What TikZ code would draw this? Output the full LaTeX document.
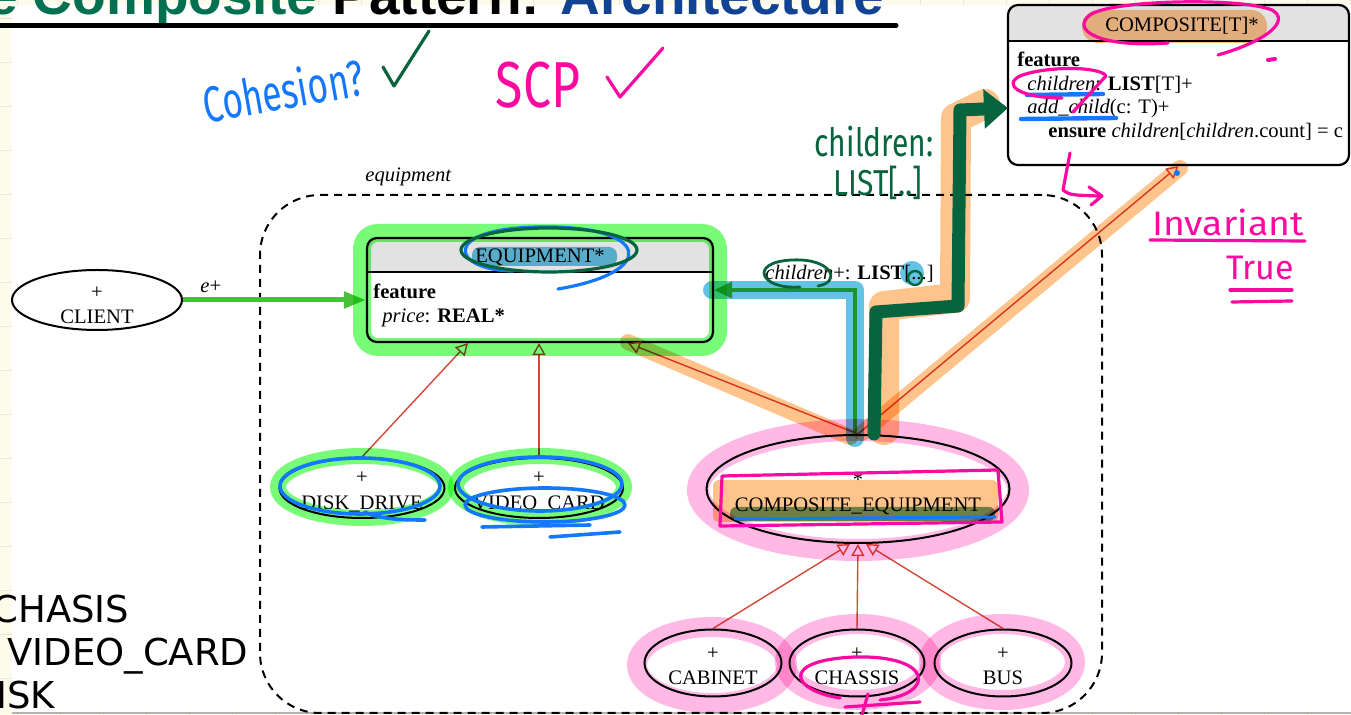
\documentclass[tikz,border=0pt]{standalone}
\usepackage{fontspec}
\setmainfont{Liberation Serif}
\newfontfamily\titlefont{Liberation Sans}
\newfontfamily\slidefont{DejaVu Sans}
\newfontfamily\penfont{Fira Sans}
\usetikzlibrary{arrows.meta,shapes.geometric}

\definecolor{paper}{RGB}{253,251,236}
\definecolor{gridline}{RGB}{236,232,210}
\definecolor{titlegreen}{RGB}{0,112,80}
\definecolor{titleblue}{RGB}{18,66,146}
\definecolor{hdrgray}{RGB}{226,226,226}
\definecolor{inherit}{RGB}{214,72,58}
\definecolor{clientgreen}{RGB}{72,192,56}
\definecolor{penblue}{RGB}{20,120,255}
\definecolor{penmagenta}{RGB}{250,10,160}
\definecolor{pengreen}{RGB}{8,100,62}
\definecolor{hlgreen}{RGB}{120,252,120}
\definecolor{hlcyan}{RGB}{100,195,228}
\definecolor{hlorange}{RGB}{255,196,140}
\definecolor{hlpink}{RGB}{255,185,228}
\definecolor{hlteal}{RGB}{110,165,125}

\tikzset{
  umlfont/.style={font=\fontsize{10.3}{12.6}\selectfont},
  classbox/.style={draw, line width=1.1pt, rounded corners=5pt, inner sep=0pt},
  classoval/.style={draw, ellipse, line width=1pt, inner sep=0pt},
  ovaltext/.style={inner sep=0pt, align=center, umlfont},
  umltext/.style={inner sep=0pt, umlfont},
  inherits/.style={draw=inherit, line width=0.7pt, -{Triangle[open, length=6pt, width=6.5pt]}},
  clientarrow/.style={draw=clientgreen, line width=#1, -{Triangle[length=11pt, width=8pt]}},
  marker/.style={line width=#1, line cap=round, line join=round},
  pen/.style={line width=#1, line cap=round, line join=round},
  pentext/.style={inner sep=0pt, font=\penfont\fontsize{#1}{#1}\selectfont},
}

\begin{document}
\begin{tikzpicture}[x=0.5pt, y=-0.5pt]
\useasboundingbox (0,0) rectangle (1351,715);
\clip (0,0) rectangle (1351,715);

% notebook paper behind the slide
\fill[paper] (0,0) rectangle (1351,715);
\foreach \gx in {17,60,...,1351} \draw[gridline, line width=0.5pt] (\gx,0) -- (\gx,715);
\foreach \gy in {19,63,...,715} \draw[gridline, line width=0.5pt] (0,\gy) -- (1351,\gy);
\fill[white] (12,5) rectangle (1351,712);
\draw[gray!60, line width=0.6pt] (12,713) -- (1351,713);

% slide title
\node[anchor=base east, inner sep=0pt, font=\titlefont\bfseries\fontsize{27.5}{30}\selectfont] (title) at (885,15)
  {\textcolor{titlegreen}{e Composite} Pattern: \textcolor{titleblue}{Architecture}};
\draw[line width=2.5pt, line cap=round] (0,25.5) -- (896,25.5);

% slide text at the lower left
\node[anchor=base west, inner sep=0pt, font=\slidefont\fontsize{18.5}{20}\selectfont] (slideA) at (-8,623) {CHASIS};
\node[anchor=base west, inner sep=0pt, font=\slidefont\fontsize{18.5}{20}\selectfont] (slideB) at (7,666) {VIDEO\_CARD};
\node[anchor=base west, inner sep=0pt, font=\slidefont\fontsize{18.5}{20}\selectfont] (slideC) at (-4,709) {ISK};

% cluster
\node[draw, dash pattern=on 4pt off 3pt, line width=1pt, rounded corners=30pt, inner sep=0pt,
      minimum width=421pt, minimum height=259pt] (cluster) at (681,454) {};
\node[umltext, anchor=base west] (clusterlabel) at (365,182) {\itshape equipment};

% EQUIPMENT class
\begin{scope}
  \clip (367,238) rectangle (713,272);
  \fill[hdrgray, rounded corners=5pt] (367,238) rectangle (713,342);
\end{scope}
\node[classbox, minimum width=173pt, minimum height=52pt] (equip) at (540,290) {};
\draw[line width=1.1pt] (367,272) -- (713,272);
\node[umltext, anchor=base] (equipname) at (540,263) {EQUIPMENT*};
\node[umltext, anchor=base west] (equipfeat) at (373,299) {\bfseries feature};
\node[umltext, anchor=base west] (equipprice) at (382,323) {\itshape price\/\upshape: \bfseries REAL*};

% COMPOSITE class
\begin{scope}
  \clip (1008,5) rectangle (1349,41);
  \fill[hdrgray, rounded corners=5pt] (1008,5) rectangle (1349,165);
\end{scope}
\node[classbox, minimum width=170.5pt, minimum height=80pt] (comp) at (1178.5,85) {};
\draw[line width=1.1pt] (1008,41) -- (1349,41);
\node[umltext, anchor=base] (compname) at (1182,32) {COMPOSITE[T]*};
\node[umltext, anchor=base west] (compfeat) at (1017,67) {\bfseries feature};
\node[umltext, anchor=base west] (compchildren) at (1027,91) {\itshape children\/\upshape: \textbf{LIST}[T]+};
\node[umltext, anchor=base west] (compadd) at (1027,114) {\itshape add\_child\/\upshape(c: T)+};
\node[umltext, anchor=base west] (compensure) at (1048,138) {\textbf{ensure} \textit{children}[\textit{children}.count] = c};

% other classes
\node[classoval, minimum width=85pt, minimum height=30pt] (client) at (97,300) {};
\node[ovaltext] (clienttext) at ([yshift=-2.5pt]client.center) {+\\CLIENT};
\node[classoval, minimum width=82.5pt, minimum height=30pt] (disk) at (362,488) {};
\node[ovaltext] (disktext) at ([yshift=-2pt]disk.center) {+\\DISK\_DRIVE};
\node[classoval, minimum width=84pt, minimum height=30pt] (video) at (539,488) {};
\node[ovaltext] (videotext) at ([yshift=-2pt]video.center) {+\\VIDEO\_CARD};
\node[classoval, minimum width=151.5pt, minimum height=54pt] (compeq) at (858,489) {};
\node[ovaltext] (compeqtext) at ([yshift=-2.5pt]compeq.center) {*\\COMPOSITE\_EQUIPMENT};
\node[classoval, minimum width=68.5pt, minimum height=33.5pt] (cabinet) at (713,663) {};
\node[ovaltext] (cabinettext) at ([yshift=-1.5pt]cabinet.center) {+\\CABINET};
\node[classoval, minimum width=67.5pt, minimum height=33.5pt] (chassis) at (857,663) {};
\node[ovaltext] (chassistext) at ([yshift=-1.5pt]chassis.center) {+\\CHASSIS};
\node[classoval, minimum width=68.5pt, minimum height=33.5pt] (bus) at (1003,663) {};
\node[ovaltext] (bustext) at ([yshift=-1.5pt]bus.center) {+\\BUS};

% relations
\draw[clientarrow=2.5pt] (client.east) -- (client.east -| equip.west);
\node[umltext, anchor=base west] (elabel) at (200,293) {\itshape e\/\upshape+};
\draw[inherits] (disk.north) -- ([xshift=-36pt]equip.south);
\draw[inherits] (video.north) -- (video.north |- equip.south);
\draw[inherits] (compeq.north) -- ([xshift=44pt]equip.south);
\draw[inherits] (compeq.north) -- (comp.south);
\draw[inherits] (cabinet.north) -- ([xshift=-4pt]compeq.south);
\draw[inherits] (chassis.north) -- (compeq.south);
\draw[inherits] (bus.north) -- ([xshift=4pt]compeq.south);
\draw[clientarrow=2pt, -{Triangle[length=9pt, width=8pt]}] ([xshift=-1.5pt]compeq.north) |- (equip.east);
\node[umltext, anchor=base west] (childlabel) at (765,280) {\itshape children\/\upshape+: \textbf{LIST}[...]};

% highlighter marks
\begin{scope}[blend mode=multiply]
  \draw[marker=9pt, hlgreen, rounded corners=8pt] (362,233) rectangle (718,347);
  \draw[marker=8pt, hlgreen] (362,487) ellipse [x radius=84, y radius=31];
  \draw[marker=8pt, hlgreen] (540,487) ellipse [x radius=84, y radius=31];
  \draw[marker=9pt, hlcyan] (855,438) |- (712,290);
  \fill[hlcyan, rounded corners=4pt] (472,247) rectangle (617,266);
  \fill[hlcyan] (912,273) circle [radius=12];
  \draw[marker=8pt, hlorange] (850,437) -- (628,342);
  \draw[marker=8pt, hlorange] (862,433) -- (1180,168);
  \draw[marker=15pt, hlorange] (884,430) -- (884,306) -- (955,298) -- (956,118) -- (985,104);
  \fill[hlorange, rounded corners=8pt] (1082,10) rectangle (1267,43);
  \fill[hlorange, rounded corners=3pt] (713,480) rectangle (998,522);
  \fill[hlteal, rounded corners=3pt] (730,507) rectangle (995,521);
  \draw[marker=11pt, hlpink] (858,490) ellipse [x radius=160, y radius=60];
  \draw[marker=10pt, hlpink] (712,665) ellipse [x radius=75, y radius=38];
  \draw[marker=10pt, hlpink] (858,662) ellipse [x radius=73, y radius=38];
  \draw[marker=10pt, hlpink] (1002,662) ellipse [x radius=73, y radius=38];
\end{scope}

% pen notes: blue
\node[pentext=22, text=penblue, rotate=10, xscale=0.8, yscale=1.15] (cohesion) at (283,90) {Cohesion?};
\draw[pen=1.6pt, penblue] (513,271) .. controls (450,270) and (440,228) .. (540,227) .. controls (650,225) and (660,272) .. (558,289);
\draw[pen=1.8pt, penblue] (360,486) ellipse [x radius=80, y radius=28];
\draw[pen=1.8pt, penblue] (365,512) .. controls (380,520) and (410,520) .. (425,520);
\draw[pen=1.8pt, penblue] (540,484) ellipse [x radius=82, y radius=27];
\draw[pen=1.8pt, penblue] (545,505) ellipse [x radius=80, y radius=17];
\draw[pen=1.8pt, penblue] (482,527) -- (590,525);
\draw[pen=1.8pt, penblue] (550,537) -- (620,532);
\draw[pen=2.2pt, penblue] (1027,95) -- (1103,94);
\draw[pen=2.2pt, penblue] (1021,119) -- (1116,118);
\draw[pen=1.5pt, penblue] (735,519) -- (995,517);
\fill[penblue] (1177,173) circle [radius=3];

% pen notes: green
\draw[pen=1.6pt, pengreen] (383,67) -- (394,86) -- (429,31);
\draw[pen=1.6pt, pengreen] (549,250) ellipse [x radius=88, y radius=22];
\draw[pen=1.4pt, pengreen] (800,287) .. controls (760,290) and (748,262) .. (792,260) .. controls (832,258) and (842,282) .. (818,286);
\draw[pen=1.2pt, pengreen] (915,278) circle [radius=7];
\node[pentext=15, text=pengreen, yscale=1.3] (notechildren) at (874,142) {children:};
\node[pentext=15, text=pengreen, yscale=1.2] (notelist) at (878,183) {LIST[..]};
\draw[pen=6.5pt, pengreen, -{Triangle[length=12pt, width=19pt]}]
  ([xshift=8pt]compeq.north) -- (876,312) -- (958,306) -- (960,110) -- (1008,108);

% pen notes: magenta
\node[pentext=25, text=penmagenta, yscale=1.3] (scp) at (538,85) {SCP};
\draw[pen=1.6pt, penmagenta] (607,77) -- (620,97) -- (663,48);
\draw[pen=1.6pt, penmagenta] (1168,43) .. controls (1100,48) and (1070,30) .. (1090,15) .. controls (1110,0) and (1240,-3) .. (1272,10) .. controls (1290,20) and (1270,40) .. (1218,55);
\draw[pen=2pt, penmagenta] (1268,60) -- (1275,59);
\draw[pen=1.6pt, penmagenta] (1062,98) .. controls (1020,98) and (1002,85) .. (1020,76) .. controls (1045,66) and (1100,66) .. (1106,76) -- (1073,112);
\draw[pen=1.6pt, penmagenta] (1070,153) -- (1063,190) .. controls (1070,195) .. (1098,196);
\draw[pen=1.6pt, penmagenta] (1089,187) -- (1102,196) -- (1091,205);
\draw[pen=1.6pt, penmagenta] (722,476) -- (998,470) -- (1002,522) -- (720,526) -- cycle;
\draw[pen=1.6pt, penmagenta] (840,698) .. controls (790,690) and (780,660) .. (855,657) .. controls (935,655) and (935,695) .. (880,700);
\draw[pen=1.6pt, penmagenta] (845,707) -- (920,702);
\draw[pen=1.6pt, penmagenta] (868,694) -- (862,715);
\node[pentext=17, text=penmagenta, xscale=1.1] (invariant) at (1228,222) {Invariant};
\draw[pen=1.6pt, penmagenta] (1150,240) -- (1305,241);
\node[pentext=17, text=penmagenta] (truenote) at (1260,268) {True};
\draw[pen=1.6pt, penmagenta] (1230,290) -- (1292,290);
\draw[pen=1.6pt, penmagenta] (1232,302) -- (1292,301);
\end{tikzpicture}
\end{document}
